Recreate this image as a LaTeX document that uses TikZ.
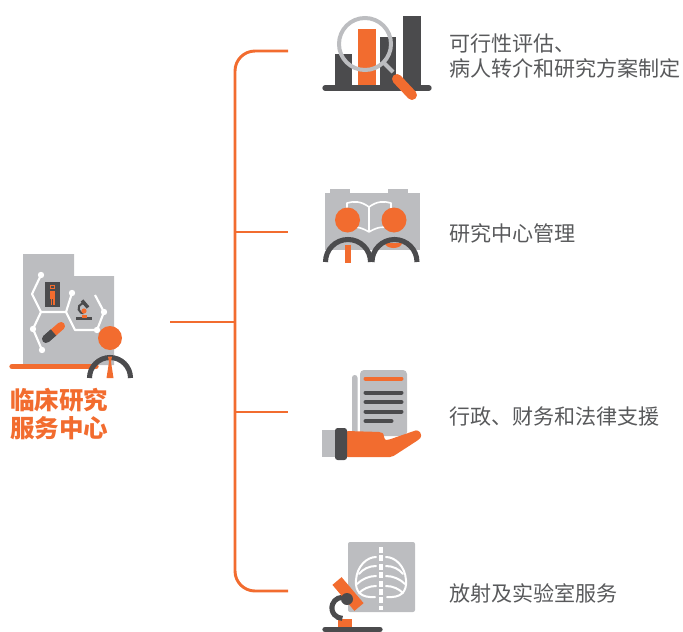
\documentclass[tikz,border=0pt]{standalone}
\usepackage{fontspec}
\setmainfont{Noto Sans CJK SC}
\definecolor{brand}{HTML}{F26C2F}
\definecolor{ink}{HTML}{4B4B4D}
\definecolor{mist}{HTML}{BCBDC0}
\definecolor{txt}{HTML}{58595B}
\begin{document}
\begin{tikzpicture}[x=0.75pt,y=-0.75pt,
  conn/.style={draw=brand,line width=2.2pt},
  item/.style={anchor=west,inner sep=0pt,align=left,text=txt,
    font=\fontsize{15.8}{18.8}\selectfont},
  hubtext/.style={anchor=west,inner sep=0pt,align=left,text=brand,
    font=\fontsize{18.4}{21}\selectfont\bfseries},
  bond/.style={white,line width=1.6pt,line join=round},
  atom/.style={white},
  bar/.style={line width=3pt,line cap=round}]
\useasboundingbox (0,0) rectangle (683,632);

% ---------- hub icon: lab board with researcher ----------
\fill[mist] (23,254) -- (74,254) -- (74,276) -- (114,276) -- (114,365) -- (23,365) -- cycle;
% molecule bonds
\draw[bond] (41,275) -- (32,294) -- (41,312) -- (66,312) -- (72,293);
\draw[bond] (66,312) -- (75,330) -- (97,330) -- (104,312) -- (95,295);
\draw[bond] (41,312) -- (33,329) -- (42,350);
\foreach \p in {(41,275),(72,293),(97,330),(104,312),(33,329),(42,350)}
  \fill[atom] \p circle[radius=3.2];
% scan panel with figure
\fill[ink] (45,282) rectangle (60,307);
\fill[brand] (50,285) rectangle (55,289);
\fill[ink] (51,286) rectangle (54,288);
\fill[brand] (50,290.5) rectangle (55,299);
\fill[brand] (50.5,299) rectangle (52.2,305);
\fill[brand] (52.8,299) rectangle (54.5,305);
% small microscope
\draw[ink,line width=1.6pt] (76,318.5) -- (92,318.5);
\draw[ink,line width=1.5pt] (86,304) arc[start angle=300,end angle=90,radius=5];
\draw[ink,line width=2.6pt] (82,300.5) -- (88,307.5);
\fill[brand] (84,311) circle[radius=2.6];
\fill[brand] (82,314.5) rectangle (86.5,317.5);
% capsule
\draw[ink,line width=6pt,line cap=round] (46,339) -- (53.5,332.5);
\draw[brand,line width=6pt,line cap=round] (53.5,332.5) -- (61,326);
\draw[ink,line width=6pt] (46,339) -- (53.5,332.5);
% desk edge
\draw[brand,line width=4pt,line cap=round] (12,366.5) -- (96,366.5);
% researcher
\fill[brand] (110,338) circle[radius=12];
\draw[ink,line width=3.8pt] (89.5,378) arc[start angle=180,end angle=360,radius=20.5];
\fill[brand] (108,356.5) -- (112,356.5) -- (111,362) -- (113.5,378) -- (106.5,378) -- (109,362) -- cycle;
\node[hubtext] (hub) at (10,414) {临床研究\\服务中心};

% ---------- connectors ----------
\coordinate (hubend) at (170,322);
\coordinate (spine) at (235,322);
\coordinate (t1) at (288,51);
\coordinate (t2) at (288,232);
\coordinate (t3) at (288,412);
\coordinate (t4) at (288,591);
\draw[conn] (hubend) -- (spine);
\draw[conn,rounded corners=15pt] (t1) -- (t1 -| spine) -- (t4 -| spine) -- (t4);
\draw[conn] (t2 -| spine) -- (t2);
\draw[conn] (t3 -| spine) -- (t3);

% ---------- icon 1: chart under magnifier ----------
\fill[ink] (335,54) rectangle (352,88);
\fill[brand] (358,29) rectangle (376,88);
\fill[ink] (380,37) rectangle (396,88);
\fill[ink] (403,16) rectangle (421,88);
\draw[ink,line width=4pt,line cap=round] (325,88) -- (429,88);
\draw[mist,line width=3pt] (365,44) circle[radius=26];
\draw[mist,line width=3pt] (384,63) -- (393,72);
\draw[brand,line width=7.5pt,line cap=round] (397,79) -- (412,95);
\node[item] (l1) at (449,56) {可行性评估、\\病人转介和研究方案制定};

% ---------- icon 2: two readers ----------
\fill[mist] (325,193) rectangle (420,250);
\fill[mist] (330,189) rectangle (350,194);
\fill[mist] (388,189) rectangle (408,194);
\draw[white,line width=1.2pt,line join=round]
  (369,207) .. controls (361,201) and (354,201) .. (347,203) -- (347,228)
  .. controls (354,226) and (361,227) .. (369,232)
  .. controls (377,227) and (384,226) .. (391,228) -- (391,203)
  .. controls (384,201) and (377,201) .. (369,207) -- (369,232);
\fill[brand] (347.5,220) circle[radius=12.5];
\fill[brand] (394,220) circle[radius=12.5];
\fill[brand] (345,245) rectangle (350.5,263);
\fill[brand] (385,243) arc[start angle=180,end angle=0,x radius=8.5,y radius=5] -- cycle;
\draw[ink,line width=3.8pt] (325.5,262) arc[start angle=180,end angle=360,radius=22.5];
\draw[ink,line width=3.8pt] (372,262) arc[start angle=180,end angle=360,radius=22.5];
\node[item] (l2) at (449,233) {研究中心管理};

% ---------- icon 3: document on a hand ----------
\fill[mist,rounded corners=2pt] (352,375) rectangle (357.5,437);
\fill[mist,rounded corners=3pt] (360,370) rectangle (407,436);
\draw[brand,bar] (365.5,378.5) -- (401.5,378.5);
\draw[ink,bar] (365.5,392.5) -- (401.5,392.5);
\draw[ink,bar] (365.5,402) -- (401.5,402);
\draw[ink,bar] (365.5,411.5) -- (401.5,411.5);
\draw[ink,bar] (365.5,421) -- (391.5,421);
\fill[mist] (322,430) rectangle (336,457);
\fill[brand,rounded corners=1.5pt] (346,431) -- (381,432)
  .. controls (384,434) and (384,440) .. (388,440) -- (414,431)
  .. controls (419,429.5) and (423,435) .. (419,439.5) -- (392,457) -- (346,457) -- cycle;
\fill[ink,rounded corners=2pt] (335,428) rectangle (347,460);
\node[item] (l3) at (449,417) {行政、财务和法律支援};

% ---------- icon 4: x-ray and microscope ----------
\fill[mist,rounded corners=1.5pt] (348,542) rectangle (415,612);
\draw[white,line width=2.4pt,dash pattern=on 4.5pt off 1.8pt] (381,547) -- (381,610);
\foreach \s in {1,-1}{
  \begin{scope}[shift={(381,0)},xscale=\s]
    \draw[white,line width=1.5pt,line cap=round]
      (-5,557) .. controls (-14,557) and (-24,566) .. (-25,580)
      .. controls (-26,592) and (-20,598) .. (-6,597);
    \draw[white,line width=1.5pt,line cap=round]
      (-5,566) .. controls (-12,566) and (-18,569) .. (-22,574);
    \draw[white,line width=1.5pt,line cap=round]
      (-5,576) .. controls (-12,576) and (-19,579) .. (-24,584);
    \draw[white,line width=1.5pt,line cap=round]
      (-5,586) .. controls (-12,586) and (-18,589) .. (-22,593);
  \end{scope}
}
\draw[ink,line width=4pt,line cap=round] (325,629.5) -- (380,629.5);
\fill[brand] (338,619) rectangle (352,627);
\draw[ink,line width=3.8pt] (346,598) arc[start angle=290,end angle=90,radius=10.5];
\draw[brand,line width=9pt] (337,581) -- (359,607);
\fill[ink] (347,599) circle[radius=6];
\node[item] (l4) at (449,593) {放射及实验室服务};
\end{tikzpicture}
\end{document}
